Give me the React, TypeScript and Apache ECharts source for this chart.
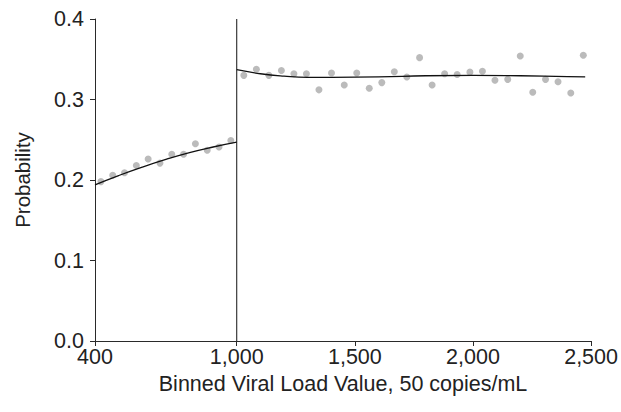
import React, { useEffect, useRef } from "react";
import * as echarts from "echarts";

const leftX = [425, 475, 525, 575, 625, 675, 725, 775, 825, 875, 925, 975];
const leftY = [0.198, 0.206, 0.209, 0.218, 0.226, 0.221, 0.232, 0.232, 0.245, 0.237, 0.241, 0.249];

const rightX = [1030, 1083, 1136, 1189, 1242, 1295, 1348, 1401, 1455, 1508, 1561, 1614, 1667, 1720,
  1774, 1827, 1880, 1933, 1987, 2040, 2093, 2147, 2200, 2253, 2307, 2360, 2414, 2467];
const rightY = [0.330, 0.3375, 0.330, 0.336, 0.332, 0.332, 0.312, 0.333, 0.318, 0.333, 0.314, 0.321,
  0.3345, 0.328, 0.352, 0.318, 0.332, 0.331, 0.334, 0.335, 0.324, 0.325, 0.354, 0.309, 0.325, 0.322,
  0.308, 0.355];

const leftFitX = [400, 500, 600, 700, 800, 900, 1000];
const leftFitY = [0.194, 0.2055, 0.216, 0.2255, 0.234, 0.241, 0.247];

const rightFitX = [1000, 1100, 1200, 1300, 1400, 1600, 1800, 2000, 2200, 2400, 2475];
const rightFitY = [0.337, 0.332, 0.329, 0.3275, 0.3275, 0.328, 0.3295, 0.330, 0.3295, 0.3285, 0.328];

const cutoffX = 1000;
const xTicks = [400, 1000, 1500, 2000, 2500];

const zip = (xs: number[], ys: number[]) => xs.map((x, i) => [x, ys[i]]);

export default function App() {
  const ref = useRef<HTMLDivElement>(null);
  useEffect(() => {
    const chart = echarts.init(ref.current!, null, { renderer: "svg" });
    const font = "'Liberation Sans', Arial, Helvetica, sans-serif";
    const axisColor = "#2a2a2a";
    chart.setOption({
      animation: false,
      backgroundColor: "#ffffff",
      grid: { left: 95, right: 27, top: 19, bottom: 71 },
      xAxis: {
        type: "value",
        min: 400,
        max: 2500,
        name: "Binned Viral Load Value, 50 copies/mL",
        nameLocation: "middle",
        nameGap: 32,
        nameTextStyle: { fontFamily: font, fontSize: 21.5, color: "#222" },
        axisLine: { show: true, onZero: false, lineStyle: { color: axisColor, width: 1 } },
        axisTick: { show: true, length: 5, customValues: xTicks, lineStyle: { color: axisColor } },
        axisLabel: {
          customValues: xTicks,
          margin: 5,
          fontFamily: font,
          fontSize: 21.5,
          color: "#222",
          formatter: (v: number) => v.toLocaleString("en-US"),
        },
        splitLine: { show: false },
      },
      yAxis: {
        type: "value",
        min: 0,
        max: 0.4,
        interval: 0.1,
        name: "Probability",
        nameLocation: "middle",
        nameGap: 62,
        nameTextStyle: { fontFamily: font, fontSize: 20.5, color: "#222" },
        axisLine: { show: true, lineStyle: { color: axisColor, width: 1 } },
        axisTick: { show: true, length: 5, lineStyle: { color: axisColor } },
        axisLabel: {
          margin: 11,
          fontFamily: font,
          fontSize: 21.5,
          color: "#222",
          formatter: (v: number) => v.toFixed(1),
        },
        splitLine: { show: false },
      },
      series: [
        {
          type: "scatter",
          data: zip(leftX, leftY),
          symbolSize: 7,
          itemStyle: { color: "#aaaaaa" },
          z: 2,
        },
        {
          type: "scatter",
          data: zip(rightX, rightY),
          symbolSize: 7,
          itemStyle: { color: "#aaaaaa" },
          z: 2,
        },
        {
          type: "line",
          data: zip(leftFitX, leftFitY),
          smooth: true,
          showSymbol: false,
          lineStyle: { color: "#111", width: 1.3 },
          z: 3,
        },
        {
          type: "line",
          data: zip(rightFitX, rightFitY),
          smooth: true,
          showSymbol: false,
          lineStyle: { color: "#111", width: 1.3 },
          z: 3,
        },
        {
          type: "line",
          data: [[cutoffX, 0], [cutoffX, 0.4]],
          showSymbol: false,
          lineStyle: { color: "#111", width: 1 },
          z: 3,
        },
      ],
    });
    return () => chart.dispose();
  }, []);
  return <div ref={ref} style={{ width: 621, height: 412, position: "absolute", left: 0, top: 0 }} />;
}
